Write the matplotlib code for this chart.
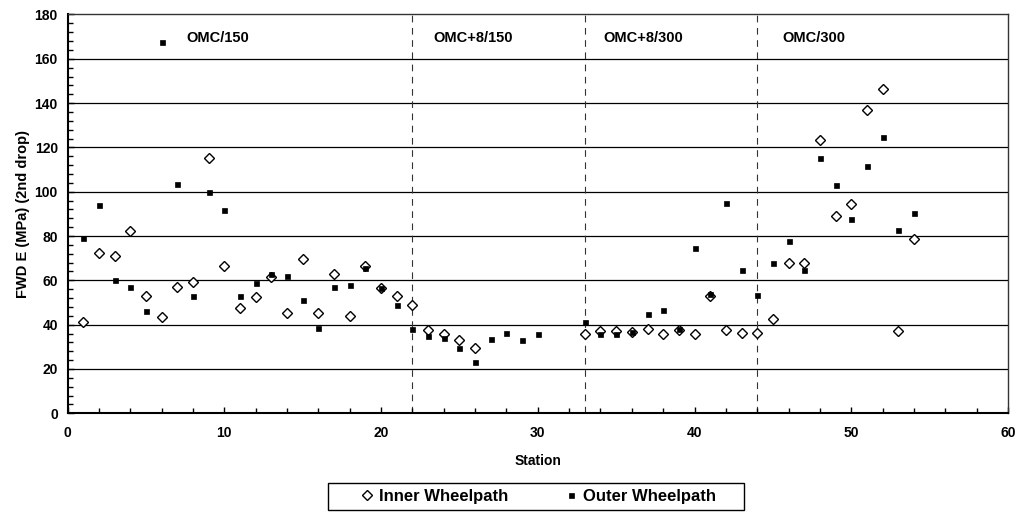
import numpy as np
import matplotlib
matplotlib.use("Agg")
import matplotlib.pyplot as plt
from matplotlib.patches import Rectangle
from matplotlib.ticker import MultipleLocator

plt.rcParams['font.family'] = ['Liberation Sans', 'DejaVu Sans']
plt.rcParams['font.weight'] = 'bold'

# FWD modulus per station, inner and outer wheelpath
inner_station = list(range(1, 27)) + list(range(33, 55))
inner_e = [41.1, 72.5, 71.0, 82.2, 53.1, 43.5, 57.0, 59.4, 115.3, 66.6,
           47.7, 52.5, 61.4, 45.4, 69.8, 45.4, 63.0, 44.1, 66.5, 56.7,
           52.8, 48.9, 37.6, 35.8, 33.2, 29.6,
           35.9, 37.3, 37.3, 36.7, 38.1, 35.7, 37.8, 35.7, 53.0, 37.6,
           36.4, 36.4, 42.7, 67.9, 68.0, 123.4, 89.1, 94.3, 137.1, 146.3,
           37.3, 78.8]

outer_station = list(range(1, 31)) + list(range(33, 55))
outer_e = [79.3, 93.9, 60.2, 57.0, 46.2, 167.8, 103.5, 52.8, 99.9, 91.6,
           53.0, 58.7, 62.7, 62.1, 51.2, 38.7, 57.0, 57.8, 65.8, 56.7,
           48.8, 38.1, 34.8, 34.0, 29.3, 23.0, 33.7, 36.3, 33.2, 35.9,
           41.2, 35.9, 35.9, 36.7, 44.7, 46.5, 38.0, 74.8, 53.9, 94.8,
           64.7, 53.6, 68.0, 77.8, 64.6, 115.1, 102.9, 87.9, 111.5, 124.7,
           82.6, 90.6]

# section boundaries and names
boundaries = [22, 33, 44]
section_names = ["OMC/150", "OMC+8/150", "OMC+8/300", "OMC/300"]
section_x = [9.6, 25.9, 36.7, 47.6]

W, H = 1017, 512
fig = plt.figure(figsize=(W / 100, H / 100), dpi=100)
ax = fig.add_axes([0.0664, 0.1928, 0.9248, 0.7789])

for y in range(20, 180, 20):
    ax.axhline(y, color='black', lw=0.9, zorder=1)

for b in boundaries:
    ax.axvline(b, color='#333333', lw=0.8, dashes=(6, 5), zorder=1)

ax.plot(inner_station, inner_e, ls='none', marker='D', ms=4.6,
        mfc='white', mec='black', mew=1.0, label='Inner Wheelpath', zorder=3)
ax.plot(outer_station, outer_e, ls='none', marker='s', ms=3.6,
        mfc='black', mec='black', mew=0.5, label='Outer Wheelpath', zorder=4)

for name, x in zip(section_names, section_x):
    ax.text(x, 169.4, name, ha='center', va='center', fontsize=10.5,
            fontweight='bold')

ax.set_xlim(0, 60)
ax.set_ylim(0, 180)
ax.xaxis.set_major_locator(MultipleLocator(10))
ax.xaxis.set_minor_locator(MultipleLocator(2))
ax.yaxis.set_major_locator(MultipleLocator(20))
ax.yaxis.set_minor_locator(MultipleLocator(4))
ax.tick_params(which='both', direction='in', labelsize=10, width=1.0,
               color='black')
ax.tick_params(which='major', length=4)
ax.tick_params(which='minor', length=3.5)
ax.tick_params(axis='y', pad=7)
ax.tick_params(axis='x', pad=9)
for lab in ax.get_xticklabels() + ax.get_yticklabels():
    lab.set_fontweight('bold')

ax.spines['left'].set_linewidth(1.5)
ax.spines['bottom'].set_linewidth(1.5)
ax.spines['top'].set_linewidth(1.0)
ax.spines['right'].set_linewidth(1.0)
ax.spines['top'].set_color('#333333')
ax.spines['right'].set_color('#333333')

ax.set_xlabel('Station', fontsize=10, fontweight='bold', labelpad=10)
ax.set_ylabel('FWD E (MPa) (2nd drop)', fontsize=10.5, fontweight='bold',
              labelpad=3)

leg = fig.legend(loc='center', bbox_to_anchor=(0.5275, 0.0303), ncol=2,
                 fontsize=12, frameon=False, borderpad=0.3,
                 handletextpad=0.1, columnspacing=3.2, handlelength=1.2,
                 borderaxespad=0)
for t in leg.get_texts():
    t.set_fontweight('bold')

# legend box drawn separately so it can be wider than the entries
fig.patches.append(Rectangle((328 / W, 1 - 510 / H), (744 - 328) / W,
                             (510 - 483) / H, transform=fig.transFigure,
                             fill=False, edgecolor='black', lw=1.0))

fig.savefig('out.png', dpi=100)
